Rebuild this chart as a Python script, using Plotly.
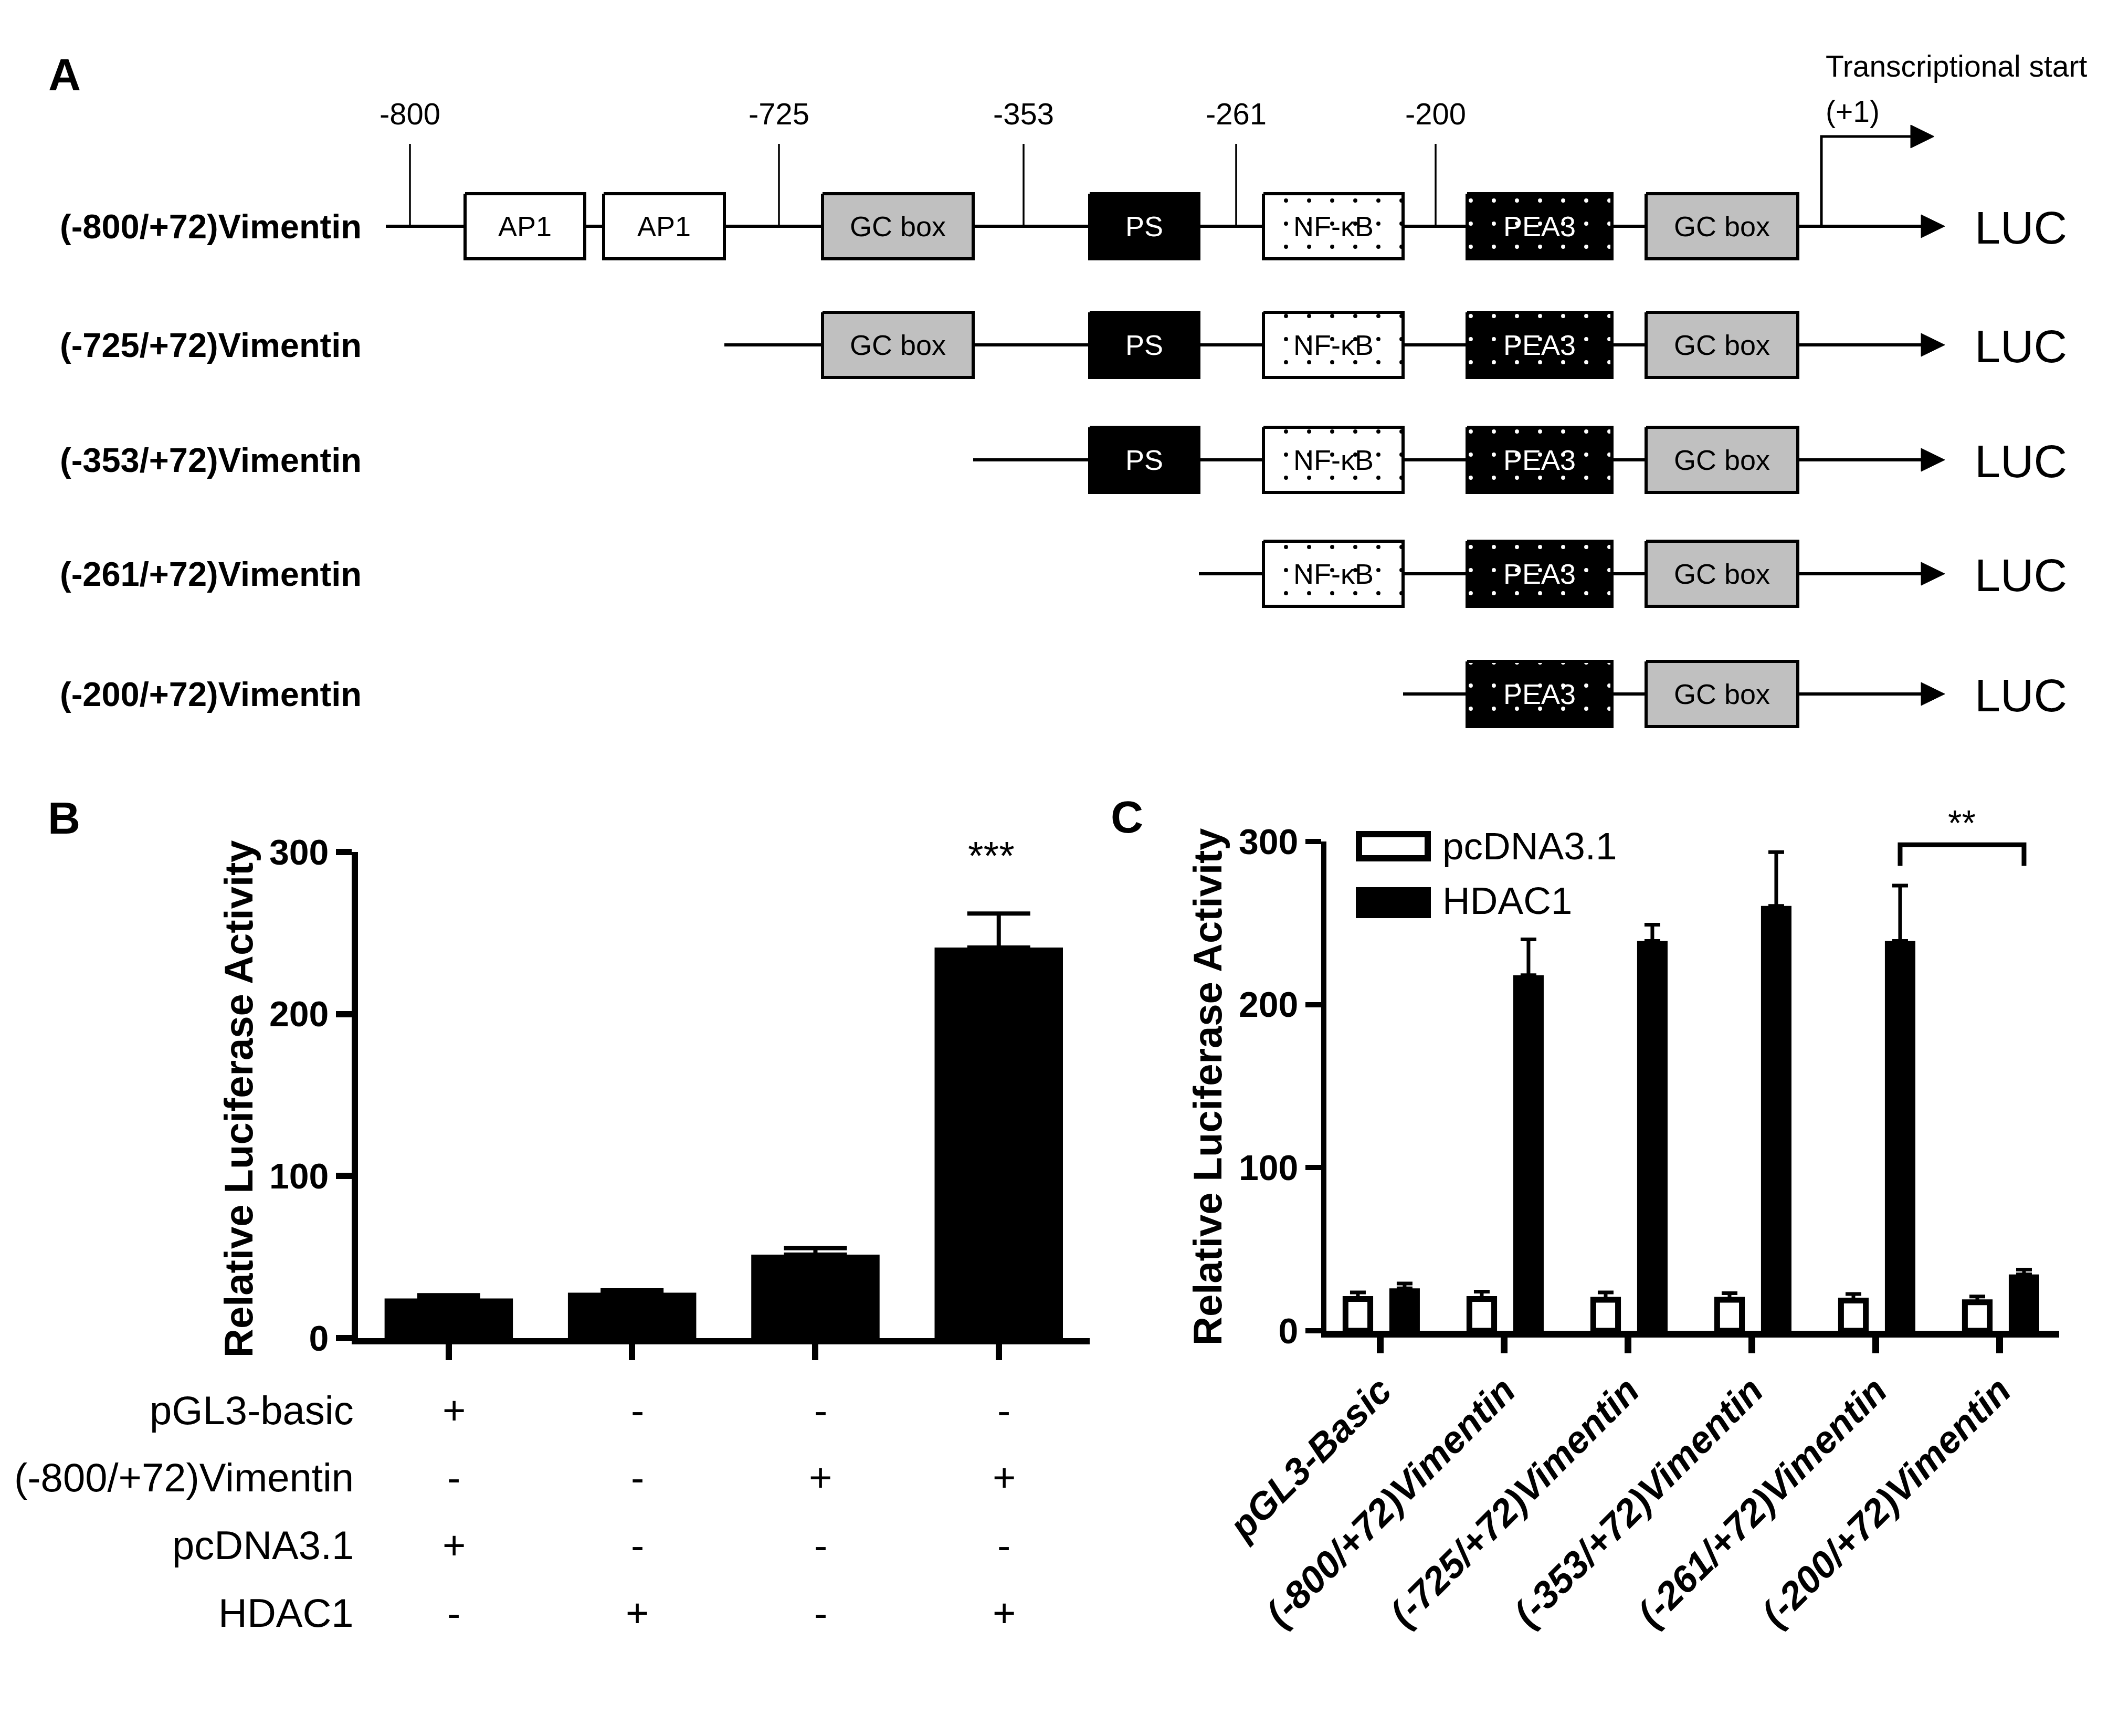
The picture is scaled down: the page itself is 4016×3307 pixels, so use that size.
import plotly.graph_objects as go

W, H = 4016, 3307

# ---------------- data ----------------
constructs = ["(-800/+72)Vimentin", "(-725/+72)Vimentin", "(-353/+72)Vimentin",
              "(-261/+72)Vimentin", "(-200/+72)Vimentin"]
elements = ["AP1", "AP1", "GC box", "PS", "NF-κB", "PEA3", "GC box"]
element_kind = ["open", "open", "gc", "ps", "nfkb", "pea3", "gc"]
first_element = [0, 2, 3, 4, 5]
site_labels = ["-800", "-725", "-353", "-261", "-200"]
tss_label = ["Transcriptional start", "(+1)"]
reporter = "LUC"

b_row_labels = ["pGL3-basic", "(-800/+72)Vimentin", "pcDNA3.1", "HDAC1"]
b_signs = [["+", "-", "-", "-"],
           ["-", "-", "+", "+"],
           ["+", "-", "-", "-"],
           ["-", "+", "-", "+"]]
b_values = [24.5, 28.0, 51.5, 241.0]
b_errors = [2.0, 1.5, 4.0, 21.0]
b_star = "***"

c_categories = ["pGL3-Basic", "(-800/+72)Vimentin", "(-725/+72)Vimentin",
                "(-353/+72)Vimentin", "(-261/+72)Vimentin", "(-200/+72)Vimentin"]
pcdna_values = [19.5, 19.5, 19.0, 19.0, 18.5, 17.5]
pcdna_errors = [4.0, 4.5, 4.5, 4.0, 4.0, 3.5]
hdac1_values = [26.0, 218.0, 239.0, 260.5, 239.0, 34.5]
hdac1_errors = [3.0, 22.0, 10.0, 33.0, 34.0, 3.0]
c_star = "**"
series_names = ["pcDNA3.1", "HDAC1"]
y_ticks = [0, 100, 200, 300]
y_title = "Relative Luciferase Activity"

# ---------------- layout / style constants ----------------
FONT = "Liberation Sans, Arial, sans-serif"

# diagram geometry (diagram axis units = pixels of panel A)
ROW_Y = [423, 649, 868, 1085, 1314]
ROW_START = [727, 1372, 1846, 2276, 2665]
ELEM_X0 = [878, 1142, 1559, 2068, 2399, 2787, 3128]
ELEM_X1 = [1106, 1372, 1846, 2276, 2665, 3063, 3417]
BOX_HALF = 62
ARROW_BASE, ARROW_TIP, ARROW_HALF = 3652, 3697, 22
SITE_X = [773, 1476, 1942, 2347, 2727]
SITE_TOP, SITE_LABEL_Y = 266, 208
TSS_X, TSS_Y, TSS_BASE, TSS_TIP = 3462, 252, 3632, 3677
KIND_STYLE = {
    "open": dict(fill="white", text="black", pattern=None),
    "gc": dict(fill="#c0c0c0", text="black", pattern=None),
    "ps": dict(fill="black", text="white", pattern=None),
    "nfkb": dict(fill="white", text="black",
                 pattern=dict(shape=".", bgcolor="white", fgcolor="black",
                              size=44, solidity=0.025, fillmode="replace")),
    "pea3": dict(fill="black", text="white",
                 pattern=dict(shape=".", bgcolor="black", fgcolor="white",
                              size=44, solidity=0.025, fillmode="replace")),
}
A_TOP = 1420


def px(x):
    return x / W


def py(y):
    return 1 - y / H


def ann(**kw):
    d = dict(showarrow=False, xanchor="center", yanchor="middle")
    d.update(kw)
    return d


fig = go.Figure()
AX = dict(xaxis="x3", yaxis="y3", hoverinfo="skip", showlegend=False)

# ---------------- Panel A ----------------
annotations = []
for r, name in enumerate(constructs):
    yc = ROW_Y[r]
    fig.add_trace(go.Scatter(x=[ROW_START[r], ARROW_BASE], y=[yc, yc], mode="lines",
                             line=dict(color="black", width=6), **AX))
    fig.add_trace(go.Scatter(x=[ARROW_BASE, ARROW_TIP, ARROW_BASE, ARROW_BASE],
                             y=[yc - ARROW_HALF, yc, yc + ARROW_HALF, yc - ARROW_HALF],
                             mode="lines", fill="toself", fillcolor="black",
                             line=dict(color="black", width=1), **AX))
    for e in range(first_element[r], len(elements)):
        st = KIND_STYLE[element_kind[e]]
        x0, x1 = ELEM_X0[e], ELEM_X1[e]
        tr = go.Scatter(x=[x0, x1, x1, x0, x0],
                        y=[yc - BOX_HALF, yc - BOX_HALF, yc + BOX_HALF, yc + BOX_HALF, yc - BOX_HALF],
                        mode="lines", fill="toself", fillcolor=st["fill"],
                        line=dict(color="black", width=6), **AX)
        if st["pattern"]:
            tr.update(fillpattern=st["pattern"])
        fig.add_trace(tr)
        annotations.append(ann(x=(x0 + x1) / 2, y=yc, xref="x3", yref="y3", text=elements[e],
                               font=dict(family=FONT, size=54, color=st["text"])))
    annotations.append(ann(x=104, y=yc, xref="x3", yref="y3", text=name, xanchor="left",
                           font=dict(family=FONT, size=65, color="black", weight="bold")))
    annotations.append(ann(x=3752, y=yc + 2, xref="x3", yref="y3", text=reporter, xanchor="left",
                           font=dict(family=FONT, size=88, color="black")))

# site markers on the full-length construct
for i, lab in enumerate(site_labels):
    fig.add_trace(go.Scatter(x=[SITE_X[i], SITE_X[i]], y=[SITE_TOP, ROW_Y[0]], mode="lines",
                             line=dict(color="black", width=3.5), **AX))
    annotations.append(ann(x=SITE_X[i], y=SITE_LABEL_Y, xref="x3", yref="y3", text=lab,
                           font=dict(family=FONT, size=58, color="black")))

# transcriptional start arrow
fig.add_trace(go.Scatter(x=[TSS_X, TSS_X, TSS_BASE], y=[ROW_Y[0], TSS_Y, TSS_Y], mode="lines",
                         line=dict(color="black", width=5), **AX))
fig.add_trace(go.Scatter(x=[TSS_BASE, TSS_TIP, TSS_BASE, TSS_BASE],
                         y=[TSS_Y - ARROW_HALF, TSS_Y, TSS_Y + ARROW_HALF, TSS_Y - ARROW_HALF],
                         mode="lines", fill="toself", fillcolor="black",
                         line=dict(color="black", width=1), **AX))
annotations.append(ann(x=3468, y=118, xref="x3", yref="y3", text=tss_label[0], xanchor="left",
                       font=dict(family=FONT, size=57, color="black")))
annotations.append(ann(x=3468, y=204, xref="x3", yref="y3", text=tss_label[1], xanchor="left",
                       font=dict(family=FONT, size=57, color="black")))

# ---------------- Panel B ----------------
fig.add_trace(go.Bar(x=list(range(len(b_values))), y=b_values, width=0.7,
                     marker=dict(color="black", line=dict(width=0)),
                     error_y=dict(type="data", array=b_errors, arrayminus=[0] * len(b_values),
                                  symmetric=False, color="black", thickness=8, width=60),
                     xaxis="x", yaxis="y", showlegend=False, hoverinfo="skip"))
annotations.append(ann(x=len(b_values) - 1, y=300, xref="x", yref="y", text=b_star,
                       xshift=-14, yshift=-6, font=dict(family=FONT, size=76, color="black")))

TABLE_Y = [2678, 2806, 2935, 3064]
for r, lab in enumerate(b_row_labels):
    annotations.append(ann(x=px(668), y=py(TABLE_Y[r]), xref="paper", yref="paper", text=lab,
                           xanchor="right", font=dict(family=FONT, size=76, color="black")))
    for c, s in enumerate(b_signs[r]):
        annotations.append(ann(x=c, y=py(TABLE_Y[r]), xref="x", yref="paper", text=s,
                               xshift=10, font=dict(family=FONT, size=76, color="black")))

# ---------------- Panel C ----------------
nC = len(c_categories)
fig.add_trace(go.Bar(x=list(range(nC)), y=pcdna_values, width=0.2, offset=-0.282, name=series_names[0],
                     marker=dict(color="white", line=dict(color="black", width=11)),
                     error_y=dict(type="data", array=pcdna_errors, arrayminus=[0] * nC,
                                  symmetric=False, color="black", thickness=7, width=15),
                     xaxis="x2", yaxis="y2", showlegend=False, hoverinfo="skip"))
fig.add_trace(go.Bar(x=list(range(nC)), y=hdac1_values, width=0.246, offset=0.072, name=series_names[1],
                     marker=dict(color="black", line=dict(width=0)),
                     error_y=dict(type="data", array=hdac1_errors, arrayminus=[0] * nC,
                                  symmetric=False, color="black", thickness=7, width=15),
                     xaxis="x2", yaxis="y2", showlegend=False, hoverinfo="skip"))

shapes = []
# significance bracket between (-261) and (-200) HDAC1 bars
bx0, bx1 = 4 + 0.195, 5 + 0.195
shapes.append(dict(type="path", xref="x2", yref="y2",
                   path=f"M {bx0},285 L {bx0},298 L {bx1},298 L {bx1},285",
                   line=dict(color="black", width=9)))
annotations.append(ann(x=(bx0 + bx1) / 2, y=300, xref="x2", yref="y2", text=c_star,
                       yshift=36, font=dict(family=FONT, size=68, color="black")))

# manual legend
shapes.append(dict(type="rect", xref="paper", yref="paper", x0=px(2581), x1=px(2712),
                   y0=py(1627), y1=py(1581), fillcolor="white", line=dict(color="black", width=12)))
shapes.append(dict(type="rect", xref="paper", yref="paper", x0=px(2575), x1=px(2718),
                   y0=py(1741), y1=py(1682), fillcolor="black", line=dict(color="black", width=0)))
annotations.append(ann(x=px(2738), y=py(1604), xref="paper", yref="paper", text=series_names[0],
                       xanchor="left", font=dict(family=FONT, size=73, color="black")))
annotations.append(ann(x=px(2738), y=py(1708), xref="paper", yref="paper", text=series_names[1],
                       xanchor="left", font=dict(family=FONT, size=73, color="black")))

# y titles and panel letters
annotations.append(ann(x=px(446), y=py(2085), xref="paper", yref="paper", text=y_title, textangle=-90,
                       font=dict(family=FONT, size=76, color="black", weight="bold")))
annotations.append(ann(x=px(2292), y=py(2062), xref="paper", yref="paper", text=y_title, textangle=-90,
                       font=dict(family=FONT, size=76, color="black", weight="bold")))
for letter, (lx, ly) in zip(["A", "B", "C"], [(115, 134), (114, 1550), (2139, 1548)]):
    annotations.append(ann(x=px(lx), y=py(ly), xref="paper", yref="paper", text=letter,
                           font=dict(family=FONT, size=86, color="black", weight="bold")))

axis_common = dict(showgrid=False, zeroline=False, showline=True, linecolor="black",
                   ticks="outside", tickcolor="black", fixedrange=True, automargin=False)

fig.update_layout(
    width=W, height=H, margin=dict(l=0, r=0, t=0, b=0, pad=0), autosize=False,
    paper_bgcolor="white", plot_bgcolor="rgba(0,0,0,0)",
    barmode="overlay", showlegend=False,
    font=dict(family=FONT, color="black"),
    xaxis=dict(domain=[px(674), px(2068)], range=[-0.495, 3.496], anchor="y",
               tickvals=list(range(len(b_values))), showticklabels=False,
               linewidth=12, ticklen=30, tickwidth=12, **axis_common),
    yaxis=dict(domain=[py(2541), py(1615)], range=[0, 300], anchor="x", tickvals=y_ticks,
               linewidth=12, ticklen=30, tickwidth=12,
               tickfont=dict(family=FONT, size=68, color="black", weight="bold"), **axis_common),
    xaxis2=dict(domain=[px(2519), px(3915)], range=[-0.436, 5.479], anchor="y2",
                tickvals=list(range(nC)), ticktext=c_categories, tickangle=-45,
                tickfont=dict(family=FONT, size=72, color="black", weight="bold", style="italic"),
                linewidth=13, ticklen=30, tickwidth=13, **axis_common),
    yaxis2=dict(domain=[py(2527), py(1595)], range=[0, 300], anchor="x2", tickvals=y_ticks,
                linewidth=10, ticklen=30, tickwidth=10,
                tickfont=dict(family=FONT, size=68, color="black", weight="bold"), **axis_common),
    xaxis3=dict(domain=[0, 1], range=[0, W], anchor="y3", visible=False, fixedrange=True,
                automargin=False),
    yaxis3=dict(domain=[py(A_TOP), 1], range=[A_TOP, 0], anchor="x3", visible=False, fixedrange=True,
                automargin=False),
    annotations=annotations,
    shapes=shapes,
)

fig.write_html("out.html")
